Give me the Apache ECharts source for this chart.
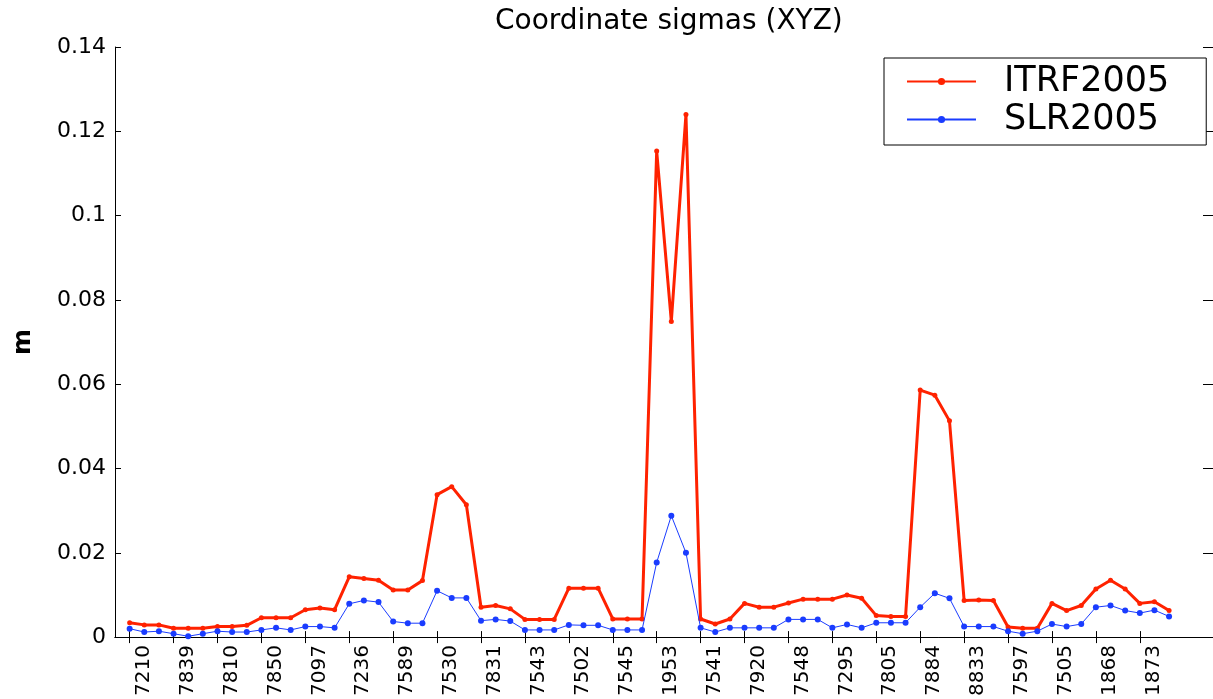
<!DOCTYPE html>
<html>
<head>
<meta charset="utf-8">
<script src="https://cdn.jsdelivr.net/npm/echarts@6/dist/echarts.min.js"></script>
<style>
  html, body { margin: 0; padding: 0; background: #ffffff; }
  #chart { width: 1213px; height: 699px; }
</style>
</head>
<body>
<div id="chart"></div>
<script>
// Station labels shown on the x axis (one every 3 points)
const stationLabels = ['7210','7839','7810','7850','7097','7236','7589','7530','7831','7543','7502','7545',
  '1953','7541','7920','7548','7295','7805','7884','8833','7597','7505','1868','1873'];

// ITRF2005 coordinate sigmas (m), 72 points
const itrf2005 = [
  0.0034, 0.0029, 0.0029, 0.0021, 0.0021, 0.0021, 0.0025, 0.0025, 0.0028, 0.0046, 0.0046, 0.0046,
  0.0065, 0.0069, 0.0065, 0.0143, 0.0139, 0.0135, 0.0112, 0.0112, 0.0134, 0.0338, 0.0357, 0.0314,
  0.0071, 0.0075, 0.0067, 0.0042, 0.0042, 0.0042, 0.0116, 0.0116, 0.0116, 0.0043, 0.0043, 0.0043,
  0.1153, 0.0749, 0.1240, 0.0043, 0.0031, 0.0043, 0.0080, 0.0071, 0.0071, 0.0081, 0.0090, 0.0090,
  0.0090, 0.0100, 0.0092, 0.0051, 0.0049, 0.0049, 0.0586, 0.0574, 0.0513, 0.0087, 0.0088, 0.0087,
  0.0024, 0.0021, 0.0021, 0.0080, 0.0063, 0.0075, 0.0114, 0.0135, 0.0114, 0.0080, 0.0084, 0.0063
];

// SLR2005 coordinate sigmas (m), 72 points
const slr2005 = [
  0.0020, 0.0012, 0.0014, 0.0008, 0.0002, 0.0008, 0.0014, 0.0012, 0.0012, 0.0017, 0.0022, 0.0017,
  0.0025, 0.0025, 0.0022, 0.0079, 0.0087, 0.0083, 0.0037, 0.0033, 0.0033, 0.0110, 0.0093, 0.0093,
  0.0039, 0.0042, 0.0038, 0.0017, 0.0017, 0.0017, 0.0029, 0.0028, 0.0028, 0.0017, 0.0017, 0.0017,
  0.0177, 0.0288, 0.0200, 0.0022, 0.0012, 0.0022, 0.0022, 0.0022, 0.0022, 0.0042, 0.0042, 0.0042,
  0.0022, 0.0030, 0.0022, 0.0034, 0.0034, 0.0034, 0.0071, 0.0104, 0.0092, 0.0025, 0.0025, 0.0025,
  0.0014, 0.0008, 0.0014, 0.0031, 0.0025, 0.0031, 0.0071, 0.0075, 0.0063, 0.0057, 0.0064, 0.0049
];

const LABEL_STEP = 3;
const X_SLOTS = 76; // axis positions 0..75, points at 1..72
const categories = [];
for (let i = 0; i < X_SLOTS; i++) {
  const k = (i - 1) / LABEL_STEP;
  categories.push(i >= 1 && Number.isInteger(k) && k < stationLabels.length ? stationLabels[k] : '');
}
const showAt = (idx) => categories[idx] !== '';

const FONT = 'DejaVu Sans';
const RED = '#ff2200';
const BLUE = '#1a3cff';

const chart = echarts.init(document.getElementById('chart'), null, { renderer: 'canvas' });
chart.setOption({
  backgroundColor: '#ffffff',
  animation: false,
  title: {
    text: 'Coordinate sigmas (XYZ)',
    left: 490,
    top: 3,
    textStyle: { fontFamily: FONT, fontSize: 28, fontWeight: 'normal', color: '#000' }
  },
  legend: {
    orient: 'vertical',
    left: 884,
    top: 58,
    padding: [6, 37, 8, 22],
    itemGap: 3,
    itemWidth: 69,
    itemHeight: 9,
    backgroundColor: '#ffffff',
    borderColor: '#000',
    borderWidth: 1,
    borderRadius: 0,
    textStyle: { fontFamily: FONT, fontSize: 35, color: '#000', padding: [0, 0, 0, 23] },
    data: ['ITRF2005', 'SLR2005']
  },
  grid: { left: 115, top: 47, right: -4, bottom: 58.5, containLabel: false },
  xAxis: [
    {
      type: 'category',
      data: categories,
      boundaryGap: false,
      axisLine: { lineStyle: { color: '#000', width: 1 } },
      axisTick: { inside: true, length: 6, interval: (i) => showAt(i), lineStyle: { color: '#000' } },
      axisLabel: {
        interval: (i) => showAt(i),
        rotate: 90,
        verticalAlign: 'top',
        padding: [4, 0, 0, 0],
        margin: 8,
        fontFamily: FONT,
        fontSize: 20,
        color: '#000'
      },
      splitLine: { show: false }
    },
    {
      type: 'category',
      data: categories,
      boundaryGap: false,
      position: 'top',
      axisLine: { lineStyle: { color: '#000', width: 1 } },
      axisTick: { inside: true, length: 6, interval: (i) => showAt(i), lineStyle: { color: '#000' } },
      axisLabel: { show: false },
      splitLine: { show: false }
    }
  ],
  yAxis: [
    {
      type: 'value',
      min: 0,
      max: 0.14,
      interval: 0.02,
      name: 'm',
      nameLocation: 'middle',
      nameRotate: 90,
      nameGap: 79,
      nameTextStyle: { fontFamily: FONT, fontSize: 25, fontWeight: 'bold', color: '#000' },
      axisLine: { show: true, lineStyle: { color: '#000', width: 1 } },
      axisTick: { show: true, inside: true, length: 6, lineStyle: { color: '#000' } },
      axisLabel: { margin: 9, fontFamily: FONT, fontSize: 22, color: '#000' },
      splitLine: { show: false }
    },
    {
      type: 'value',
      min: 0,
      max: 0.14,
      interval: 0.02,
      position: 'right',
      axisLine: { show: true, lineStyle: { color: '#000', width: 1 } },
      axisTick: { show: true, inside: true, length: 10, lineStyle: { color: '#000' } },
      axisLabel: { show: false },
      splitLine: { show: false }
    }
  ],
  series: [
    {
      name: 'ITRF2005',
      type: 'line',
      data: itrf2005.map((v, k) => [k + 1, v]),
      symbol: 'circle',
      symbolSize: 5,
      showAllSymbol: true,
      lineStyle: { color: RED, width: 3 },
      itemStyle: { color: RED },
      z: 3
    },
    {
      name: 'SLR2005',
      type: 'line',
      data: slr2005.map((v, k) => [k + 1, v]),
      symbol: 'circle',
      symbolSize: 6,
      showAllSymbol: true,
      lineStyle: { color: BLUE, width: 1 },
      itemStyle: { color: BLUE },
      z: 4
    }
  ]
});
</script>
</body>
</html>
